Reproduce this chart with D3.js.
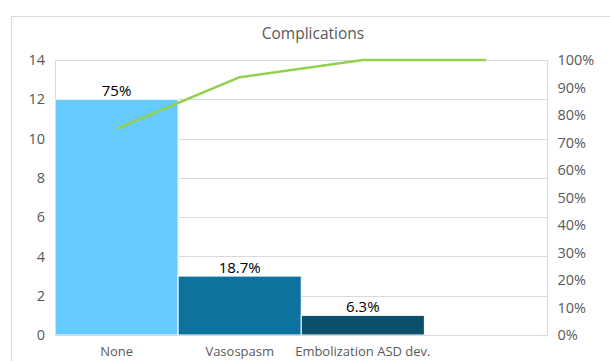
<!DOCTYPE html>
<html><head><meta charset="utf-8">
<script src="https://cdn.jsdelivr.net/npm/d3@7"></script>
<style>
body{margin:0;background:#fff;}
text{font-family:"Open Sans","Liberation Sans",sans-serif;}
</style></head>
<body><svg id="c" width="610" height="361"></svg>
<script>
const categories = ["None", "Vasospasm", "Embolization ASD dev.", ""];
const counts = [12, 3, 1, 0];
const cumulative = [0.75, 0.9375, 1.0, 1.0];
const barLabels = ["75%", "18.7%", "6.3%", ""];
const barColors = ["#66CCFF", "#0D729E", "#0B4F6B", "#0B4F6B"];
const leftTicks = [0, 2, 4, 6, 8, 10, 12, 14];
const rightTicks = [0, 0.1, 0.2, 0.3, 0.4, 0.5, 0.6, 0.7, 0.8, 0.9, 1.0];
const title = "Complications";

const svg = d3.select("#c");
const m = {l:55, r:547.5, t:60, b:335};
svg.append("rect").attr("x",11.5).attr("y",16.5).attr("width",610).attr("height",360)
  .attr("fill","#fff").attr("stroke","#D9D9D9");

const x = d3.scaleBand().domain(categories.map((d,i)=>i)).range([m.l,m.r]).padding(0);
const y = d3.scaleLinear().domain([0,14]).range([m.b,m.t]);
const y2 = d3.scaleLinear().domain([0,1]).range([m.b,m.t]);

// gridlines
svg.append("g").selectAll("line").data(leftTicks).join("line")
  .attr("x1",m.l).attr("x2",m.r).attr("y1",d=>Math.round(y(d))+0.5).attr("y2",d=>Math.round(y(d))+0.5)
  .attr("stroke","#D9D9D9").attr("stroke-width",1);
svg.append("line").attr("x1",m.l+0.5).attr("x2",m.l+0.5).attr("y1",m.t).attr("y2",m.b).attr("stroke","#D9D9D9");
svg.append("line").attr("x1",m.r).attr("x2",m.r).attr("y1",m.t).attr("y2",m.b).attr("stroke","#D9D9D9");

// bars
svg.append("g").selectAll("rect").data(counts).join("rect")
  .attr("x",(d,i)=>x(i)).attr("width",x.bandwidth())
  .attr("y",d=>y(d)).attr("height",d=>y(0)-y(d))
  .attr("fill",(d,i)=>barColors[i]).attr("stroke","#fff").attr("stroke-width",1);

// bar labels
svg.append("g").selectAll("text").data(counts).join("text")
  .attr("x",(d,i)=>x(i)+x.bandwidth()/2).attr("y",d=>y(d)-3)
  .attr("text-anchor","middle").attr("font-size",15).attr("fill","#000")
  .text((d,i)=>barLabels[i]);

// line
const line = d3.line().x((d,i)=>x(i)+x.bandwidth()/2).y(d=>y2(d));
svg.append("path").datum(cumulative).attr("d",line)
  .attr("fill","none").attr("stroke","#92D050").attr("stroke-width",2.5).attr("stroke-linejoin","round");

// left axis
const ax = d3.axisLeft(y).tickValues(leftTicks).tickSize(0).tickPadding(10);
const gl = svg.append("g").attr("transform",`translate(${m.l},0)`).call(ax);
gl.select(".domain").remove();
gl.selectAll("text").attr("font-size",14.5).attr("fill","#595959").attr("font-family","'Open Sans',sans-serif");

// right axis
const ar = d3.axisRight(y2).tickValues(rightTicks).tickFormat(d3.format(".0%")).tickSize(0).tickPadding(10);
const gr = svg.append("g").attr("transform",`translate(${m.r},0)`).call(ar);
gr.select(".domain").remove();
gr.selectAll("text").attr("font-size",14.5).attr("fill","#595959").attr("font-family","'Open Sans',sans-serif");

// x axis labels
const axb = d3.axisBottom(x).tickFormat(i=>categories[i]).tickSize(0).tickPadding(12);
const gb = svg.append("g").attr("transform",`translate(0,${m.b})`).call(axb);
gb.select(".domain").attr("stroke","#D9D9D9");
gb.selectAll("text").attr("font-size",13).attr("fill","#595959").attr("font-family","'Open Sans',sans-serif");

// title
svg.append("text").attr("x",313).attr("y",39).attr("text-anchor","middle")
  .attr("font-size",15.5).attr("fill","#595959").text(title);
</script></body></html>
